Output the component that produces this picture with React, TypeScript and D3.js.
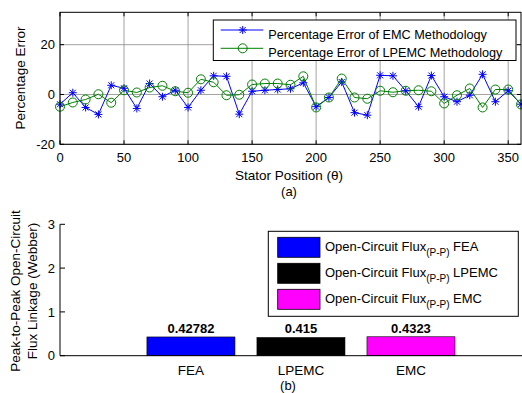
import * as d3 from 'd3'

// (a) percentage error vs stator position
const statorPos = [0, 10, 20, 30, 40, 50, 60, 70, 80, 90, 100, 110, 120, 130, 140, 150, 160, 170, 180, 190, 200, 210, 220, 230, 240, 250, 260, 270, 280, 290, 300, 310, 320, 330, 340, 350, 360]
const emcError = [-3.9, 0.7, -5.2, -8, 3.7, 2.5, -5.6, 4.4, -0.9, 1.7, -5.2, 1.7, 7.5, 7.3, -7.9, 1.3, 1.7, 2, 2.3, 4.7, -4.9, -1.2, 5, -7.3, -8.3, 7.7, 7.5, 1.5, -4.9, 7.6, -0.9, -2.9, -0.3, 8.1, -2.9, 1.5, -3.9]
const lpemcError = [-4.9, -3.2, -2, 0.1, -3.3, 1.7, 0.8, 2.8, 3.5, 1.3, 0.7, 6.1, 4.9, -0.3, -0.1, 4, 4.4, 4.4, 3.9, 7.3, -5.2, -1.2, 6.4, -1.2, -1.7, 1.5, 0.9, 1.5, 1.7, 1.3, -3.6, -0.3, 2.4, -5.2, 2, 2, -4]
const errXTicks = [0, 50, 100, 150, 200, 250, 300, 350]
const errYTicks = [-20, 0, 20]
const errSeries = ['Percentage Error of EMC Methodology', 'Percentage Error of LPEMC Methodology']

// (b) peak-to-peak flux linkage
const fluxMethods = ['FEA', 'LPEMC', 'EMC']
const fluxValues = [0.42782, 0.415, 0.4323]
const fluxLabels = ['0.42782', '0.415', '0.4323']
const fluxTicks = [0, 1, 2, 3]

const FONT = '"Liberation Sans", Arial, Helvetica, sans-serif'
const BLUE = '#0000ff'
const GREEN = '#008000'
const BAR_COLORS = ['#0000ff', '#000000', '#ff00ff']

function starPath(x: number, y: number, s = 4) {
  const d = s * 0.75
  return `M${x - s},${y}h${2 * s}M${x},${y - s}v${2 * s}M${x - d},${y - d}l${2 * d},${2 * d}M${x - d},${y + d}l${2 * d},${-2 * d}`
}

function ErrorPlot() {
  const L = 60, R = 521, T = 12.3, B = 144.3
  const x = d3.scaleLinear().domain([0, 360]).range([L, R])
  const y = d3.scaleLinear().domain([-20, 33]).range([B, T])
  const line = d3.line<number>().x((_, i) => x(statorPos[i])).y(d => y(d))
  const tk = 4

  return (
    <g>
      {/* grid */}
      {errXTicks.map(t => (
        <line key={'gx' + t} x1={x(t)} x2={x(t)} y1={T} y2={B} stroke="#8c8c8c" strokeWidth={0.8} />
      ))}
      {errYTicks.map(t => (
        <line key={'gy' + t} x1={L} x2={R} y1={y(t)} y2={y(t)} stroke="#8c8c8c" strokeWidth={0.8} />
      ))}

      {/* series */}
      <path d={line(emcError) ?? ''} fill="none" stroke={BLUE} strokeWidth={1} />
      <path d={line(lpemcError) ?? ''} fill="none" stroke={GREEN} strokeWidth={1} />
      {emcError.map((v, i) => (
        <path key={'s' + i} d={starPath(x(statorPos[i]), y(v))} stroke={BLUE} strokeWidth={1} fill="none" />
      ))}
      {lpemcError.map((v, i) => (
        <circle key={'c' + i} cx={x(statorPos[i])} cy={y(v)} r={4.5} stroke={GREEN} strokeWidth={1} fill="none" />
      ))}

      {/* box + ticks */}
      <rect x={L} y={T} width={R - L} height={B - T} fill="none" stroke="#000" strokeWidth={1} />
      {errXTicks.map(t => (
        <g key={'tx' + t}>
          <line x1={x(t)} x2={x(t)} y1={B} y2={B - tk} stroke="#000" />
          <line x1={x(t)} x2={x(t)} y1={T} y2={T + tk} stroke="#000" />
          <text x={x(t)} y={162} textAnchor="middle" fontSize={13} fontFamily={FONT}>{t}</text>
        </g>
      ))}
      {errYTicks.map(t => (
        <g key={'ty' + t}>
          <line x1={L} x2={L + tk} y1={y(t)} y2={y(t)} stroke="#000" />
          <line x1={R} x2={R - tk} y1={y(t)} y2={y(t)} stroke="#000" />
          <text x={55} y={y(t)} dy="0.36em" textAnchor="end" fontSize={13} fontFamily={FONT}>{t}</text>
        </g>
      ))}

      {/* labels */}
      <text transform="translate(20,78) rotate(-90)" dy="0.36em" textAnchor="middle" fontSize={13.5} fontFamily={FONT}>Percentage Error</text>
      <text x={289} y={180} textAnchor="middle" fontSize={13.5} fontFamily={FONT}>Stator Position (θ)</text>
      <text x={289} y={196} textAnchor="middle" fontSize={13} fontFamily={FONT}>(a)</text>

      {/* legend */}
      <rect x={213.3} y={20} width={302.7} height={40.5} fill="#fff" stroke="#000" strokeWidth={1} />
      {errSeries.map((s, i) => {
        const ly = 30 + i * 18.3
        const c = i === 0 ? BLUE : GREEN
        return (
          <g key={s}>
            <line x1={220.7} x2={263.3} y1={ly} y2={ly} stroke={c} strokeWidth={1} />
            {i === 0
              ? <path d={starPath(242.7, ly)} stroke={c} fill="none" />
              : <circle cx={242.7} cy={ly} r={4.5} stroke={c} fill="none" />}
            <text x={268.3} y={ly + 9} fontSize={12.7} fontFamily={FONT}>{s}</text>
          </g>
        )
      })}
    </g>
  )
}

function FluxPlot() {
  const L = 60, R = 521, T = 224.3, B = 355.7
  const x = d3.scaleLinear().domain([-0.19, 4]).range([L, R])
  const y = d3.scaleLinear().domain([0, 3]).range([B, T])
  const bw = 0.8

  return (
    <g>
      {fluxValues.map((v, i) => (
        <g key={fluxMethods[i]}>
          <rect x={x(i + 1 - bw / 2)} y={y(v)} width={x(i + 1 + bw / 2) - x(i + 1 - bw / 2)} height={y(0) - y(v)}
            fill={BAR_COLORS[i]} stroke="#000" strokeWidth={0.6} />
          <text x={x(i + 1)} y={333} textAnchor="middle" fontSize={13} fontWeight="bold" fontFamily={FONT}>{fluxLabels[i]}</text>
          <text x={x(i + 1)} y={375} textAnchor="middle" fontSize={13.5} fontFamily={FONT}>{fluxMethods[i]}</text>
        </g>
      ))}

      {/* axes */}
      <line x1={L} x2={L} y1={T} y2={B} stroke="#000" />
      <line x1={L} x2={R + 1} y1={B} y2={B} stroke="#000" />
      {fluxTicks.map(t => (
        <g key={'fy' + t}>
          <line x1={L} x2={L + 5} y1={y(t)} y2={y(t)} stroke="#000" />
          <text x={55} y={y(t)} dy="0.36em" textAnchor="end" fontSize={13} fontFamily={FONT}>{t}</text>
        </g>
      ))}

      {/* labels */}
      <text transform="translate(15,291) rotate(-90)" dy="0.36em" textAnchor="middle" fontSize={13.5} fontFamily={FONT}>Peak-to-Peak Open-Circuit</text>
      <text transform="translate(32,291) rotate(-90)" dy="0.36em" textAnchor="middle" fontSize={13.5} fontFamily={FONT}>Flux Linkage (Webber)</text>
      <text x={288} y={390} textAnchor="middle" fontSize={13} fontFamily={FONT}>(b)</text>

      {/* legend */}
      <rect x={268.3} y={231.3} width={250} height={85} fill="#fff" stroke="#000" strokeWidth={1} />
      {fluxMethods.map((m, i) => {
        const top = 237.3 + i * 26
        return (
          <g key={'lg' + m}>
            <rect x={277.7} y={top} width={42.3} height={20} fill={BAR_COLORS[i]} stroke="#000" strokeWidth={0.8} />
            <text x={325} y={top + 14} fontSize={13} fontFamily={FONT}>
              Open-Circuit Flux
              <tspan fontSize={10} dy={5}>(P-P)</tspan>
              <tspan fontSize={13} dy={-5}> {m}</tspan>
            </text>
          </g>
        )
      })}
    </g>
  )
}

export default function App() {
  return (
    <div style={{ position: 'absolute', left: 0, top: 0, background: '#fff' }}>
      <svg width={522} height={393} viewBox="0 0 522 393" style={{ display: 'block' }}>
        <rect width={522} height={393} fill="#fff" />
        <ErrorPlot />
        <FluxPlot />
      </svg>
    </div>
  )
}
